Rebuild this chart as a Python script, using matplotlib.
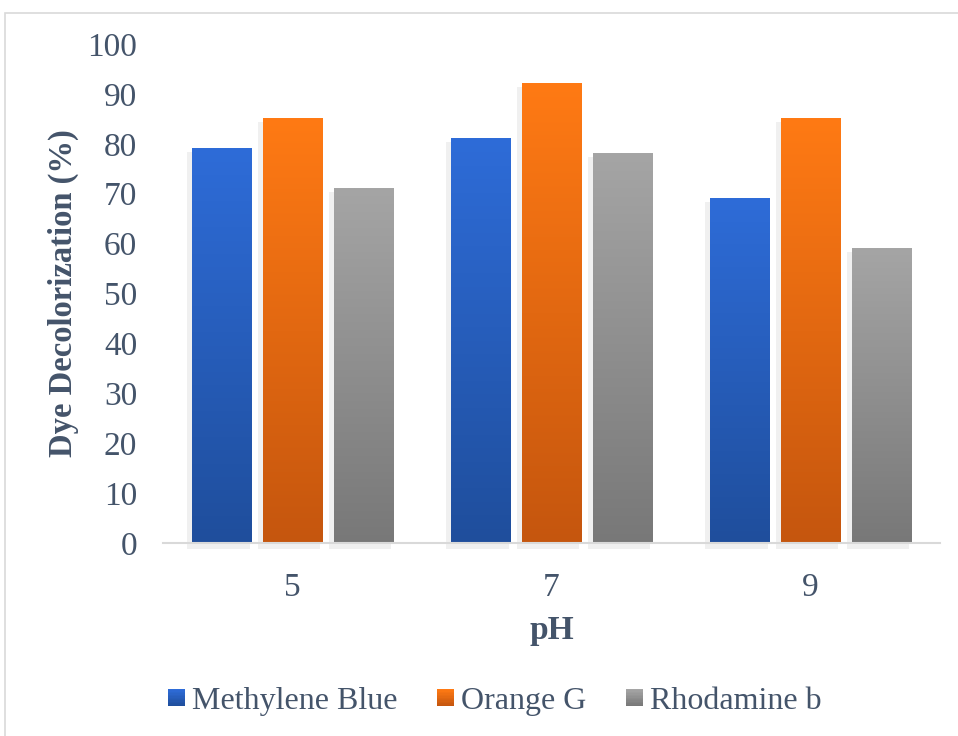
import matplotlib
matplotlib.use("Agg")
import matplotlib.pyplot as plt
import numpy as np
from matplotlib.colors import LinearSegmentedColormap
from matplotlib.patches import Rectangle
from matplotlib.legend_handler import HandlerBase

categories = ["5", "7", "9"]
series_names = ["Methylene Blue", "Orange G", "Rhodamine b"]
methylene_blue = [79, 81, 69]
orange_g = [85, 92, 85]
rhodamine_b = [71, 78, 59]
yticks = [0, 10, 20, 30, 40, 50, 60, 70, 80, 90, 100]

top_colors = ["#2E6CD8", "#FF7A14", "#A5A5A5"]
bot_colors = ["#1F4E9C", "#C5560E", "#787878"]
text_color = "#44546A"

plt.rcParams['font.family'] = ['Liberation Serif', 'DejaVu Serif']

fig = plt.figure(figsize=(9.58, 7.36), dpi=100)
ax = fig.add_axes([163/958, 1-543/736, 777/958, 499/736])

# figure border
fig.patches.append(Rectangle((5/958, -0.01), 1.0, 1 - 13/736 + 0.01, transform=fig.transFigure,
                             fill=False, edgecolor="#D9D9D9", linewidth=1.2))

data = [methylene_blue, orange_g, rhodamine_b]
x = np.arange(len(categories))
bw = 0.228
pitch = 0.274
grad = np.linspace(0, 1, 256).reshape(-1, 1)
for s, vals in enumerate(data):
    cmap = LinearSegmentedColormap.from_list("g%d" % s, [bot_colors[s], top_colors[s]])
    offs = (s - 1) * pitch
    bars = ax.bar(x + offs, vals, bw, color="none", edgecolor="none", zorder=3)
    for b in bars:
        x0, w, h = b.get_x(), b.get_width(), b.get_height()
        # soft shadow
        ax.add_patch(Rectangle((x0 - 0.018, -1.2), w + 0.012, h + 0.6, facecolor="#000000",
                               alpha=0.06, edgecolor="none", zorder=2, clip_on=False))
        ax.imshow(grad, cmap=cmap, origin="lower", aspect="auto",
                  extent=(x0, x0 + w, 0, h), zorder=3)

ax.set_xlim(-0.5, 2.5)
ax.set_ylim(0, 100)
ax.set_xticks(x)
ax.set_xticklabels(categories)
ax.set_yticks(yticks)
for sp in ["top", "right", "left"]:
    ax.spines[sp].set_visible(False)
ax.spines["bottom"].set_color("#D9D9D9")
ax.spines["bottom"].set_linewidth(1.5)
ax.spines["bottom"].set_zorder(4)
ax.tick_params(axis="both", length=0, labelsize=24, labelcolor=text_color)
ax.tick_params(axis="x", pad=21)
ax.tick_params(axis="y", pad=18.5)
ax.set_ylabel("Dye Decolorization (%)", fontsize=23.5, fontweight="bold", color=text_color)
ax.set_xlabel("pH", fontsize=24, fontweight="bold", color=text_color)
ax.yaxis.set_label_coords((63 - 163) / 777, 0.5)
ax.yaxis.label.set_va("center")
ax.xaxis.set_label_coords(0.5, (543 - 630) / 499)
ax.xaxis.label.set_va("center")
ax.patch.set_alpha(0)


class GradHandler(HandlerBase):
    def __init__(self, top, bot):
        super().__init__()
        self.top, self.bot = top, bot

    def create_artists(self, legend, orig_handle, xdescent, ydescent, width, height, fontsize, trans):
        n = 12
        c1 = np.array(matplotlib.colors.to_rgb(self.bot))
        c2 = np.array(matplotlib.colors.to_rgb(self.top))
        size = width
        x0 = -xdescent
        y0 = -ydescent + (height - size) / 2
        arts = []
        for i in range(n):
            t = i / (n - 1)
            r = Rectangle((x0, y0 + size * i / n), size, size / n + 0.3,
                          facecolor=c1 * (1 - t) + c2 * t, edgecolor="none", transform=trans)
            arts.append(r)
        return arts


handles = [Rectangle((0, 0), 1, 1) for _ in series_names]
hmap = {h: GradHandler(top_colors[i], bot_colors[i]) for i, h in enumerate(handles)}
leg = fig.legend(handles, series_names, handler_map=hmap, loc="center",
                 bbox_to_anchor=(495/958, 1 - 701/736), ncol=3, frameon=False,
                 fontsize=23, handlelength=0.53, handletextpad=0.22, columnspacing=1.25)
for t in leg.get_texts():
    t.set_color(text_color)

fig.savefig("out.png", dpi=100)
